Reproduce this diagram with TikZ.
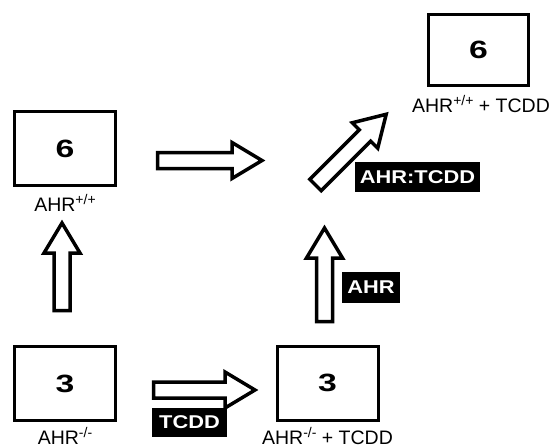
\documentclass[tikz,border=0pt]{standalone}
\usepackage{fontspec}
\setmainfont{Liberation Sans}
\newfontfamily\numfont{Liberation Sans Bold}[FakeStretch=1.35]
\newfontfamily\tagfont{Liberation Sans Bold}[FakeStretch=1.18]
\newcommand\sups[1]{\raisebox{6.5pt}{\fontsize{14}{14}\selectfont #1}}
\begin{document}
\begin{tikzpicture}[x=1pt,y=-1pt,
  box/.style={draw,line width=3pt,minimum width=101pt,minimum height=74pt,inner sep=0pt,font=\fontsize{25}{30}\numfont},
  lab/.style={anchor=base,inner sep=0pt,font=\fontsize{19.5}{22}\selectfont},
  tag/.style={fill=black,text=white,inner sep=0pt,font=\fontsize{18.5}{20}\tagfont},
  fat/.style={draw,line width=3.5pt,fill=white,line join=miter}]
\useasboundingbox (0,0) rectangle (557,447);
\newcommand\fatarrow[3]{%
  \begin{scope}[shift={(#1)},rotate=#2]
  \draw[fat] (0,-8) -- ({#3-30},-8) -- ({#3-30},-18) -- (#3,0) -- ({#3-30},18) -- ({#3-30},8) -- (0,8) -- cycle;
  \end{scope}}
% boxes
\node[box] (a) at (65,148.5) {6};
\node[box] (b) at (65,383.5) {3};
\node[box] (c) at (327.5,383) {3};
\node[box,minimum width=100pt,minimum height=71pt] (d) at (478.5,50) {6};
% labels
\node[lab] (la) at (65,211) {AHR\sups{+/+}};
\node[lab] (lb) at (65,444) {AHR\sups{-/-}};
\node[lab] (lc) at (327.5,444) {AHR\sups{-/-} + TCDD};
\node[lab] (ld) at (481,112) {AHR\sups{+/+} + TCDD};
% arrows
\coordinate (h1) at (157.5,160.5);
\coordinate (h2) at (153.5,390);
\coordinate (v1) at (62,310.5);
\coordinate (v2) at (324.5,321.5);
\coordinate (dg) at (315.5,185);
\fatarrow{h1}{0}{104.5}
\fatarrow{h2}{0}{101.5}
\fatarrow{v1}{90}{87.5}
\fatarrow{v2}{90}{93.5}
\fatarrow{dg}{45}{100}
% tags
\node[tag,minimum width=58pt,minimum height=31pt] (t1) at (371,287.5) {AHR};
\node[tag,minimum width=125pt,minimum height=30pt] (t2) at (417.5,177) {AHR:TCDD};
\node[tag,minimum width=75pt,minimum height=29pt] (t3) at (189.5,422.5) {TCDD};
\end{tikzpicture}
\end{document}
